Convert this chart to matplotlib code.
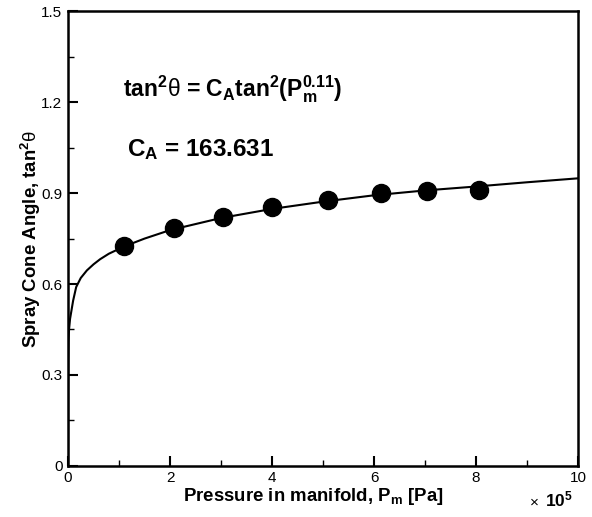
import matplotlib
matplotlib.use("Agg")
import matplotlib.pyplot as plt

plt.rcParams['font.family'] = ['Liberation Sans', 'DejaVu Sans']
plt.rcParams['mathtext.fontset'] = 'custom'
plt.rcParams['mathtext.rm'] = 'Liberation Sans:bold'
plt.rcParams['mathtext.it'] = 'Liberation Sans:bold'
plt.rcParams['mathtext.bf'] = 'Liberation Sans:bold'
plt.rcParams['mathtext.sf'] = 'Liberation Sans'

# measured points (pressure in 1e5 Pa, tan^2 theta)
pressure = [1.10, 2.08, 3.04, 4.00, 5.10, 6.14, 7.04, 8.06]
tan2_meas = [0.724, 0.784, 0.820, 0.853, 0.876, 0.899, 0.906, 0.912]

# fitted curve
fit_p = [0.0, 0.002, 0.005, 0.01, 0.02, 0.04, 0.07, 0.10, 0.16, 0.25, 0.37,
         0.50, 0.63, 0.80, 1.10, 1.5, 2.0, 3.0, 4.0, 5.0, 6.0, 7.0, 8.0, 9.0, 10.0]
fit_y = [0.0, 0.25, 0.35, 0.41, 0.45, 0.485, 0.515, 0.545, 0.590, 0.620, 0.645,
         0.665, 0.682, 0.700, 0.724, 0.750, 0.778, 0.818, 0.848, 0.872, 0.893,
         0.909, 0.922, 0.936, 0.949]

x_ticks = [0, 2, 4, 6, 8, 10]
x_minor = [1, 3, 5, 7, 9]
y_ticks = [0, 0.3, 0.6, 0.9, 1.2, 1.5]
y_minor = [0.15, 0.45, 0.75, 1.05, 1.35]
y_labels = ['0', '0.3', '0.6', '0.9', '1.2', '1.5']

fig = plt.figure(figsize=(5.92, 5.17), dpi=100)
ax = fig.add_axes([0.1149, 0.0992, 0.8615, 0.8786])

ax.plot(fit_p, fit_y, color='black', linewidth=1.5, zorder=2)
ax.plot(pressure, tan2_meas, 'o', color='black', markersize=13, zorder=3)

ax.set_xlim(0, 10)
ax.set_ylim(0, 1.5)
ax.set_xticks(x_ticks)
ax.set_xticks(x_minor, minor=True)
ax.set_xticklabels([str(v) for v in x_ticks])
ax.set_yticks(y_ticks)
ax.set_yticks(y_minor, minor=True)
ax.set_yticklabels(y_labels)

ax.tick_params(which='both', direction='in', top=False, right=False,
               labelsize=11, pad=4)
ax.tick_params(which='major', length=7, width=1.5)
ax.tick_params(which='minor', length=4, width=1.0)
for s in ax.spines.values():
    s.set_linewidth(1.8)

ax.set_xlabel(r'Pressure in manifold, P$_{\rm m}$ [Pa]', fontsize=13.4,
              fontweight='bold')
ax.xaxis.set_label_coords(0.48, -0.045)
ax.set_ylabel(r'Spray Cone Angle, tan$^2\mathsf{\theta}$', fontsize=13.4,
              fontweight='bold')
ax.yaxis.set_label_coords(-0.050, 0.5)

fig.text(0.893, 0.030, r'$\mathsf{\times}$', fontsize=11,
         ha='left', va='center')
fig.text(0.921, 0.034, r'10$^{5}$', fontsize=12.5, fontweight='bold',
         ha='left', va='center')

ax.text(1.08, 1.245, r'tan$^2\mathsf{\theta}$ = C$_{\rm A}$tan$^2$(P$_{\rm m}^{0.11}$)',
        fontsize=16.5, fontweight='bold', ha='left', va='center')
ax.text(1.15, 1.045, r'C$_{\rm A}$ = 163.631', fontsize=17.5,
        fontweight='bold', ha='left', va='center')

fig.savefig('out.png', dpi=100)
